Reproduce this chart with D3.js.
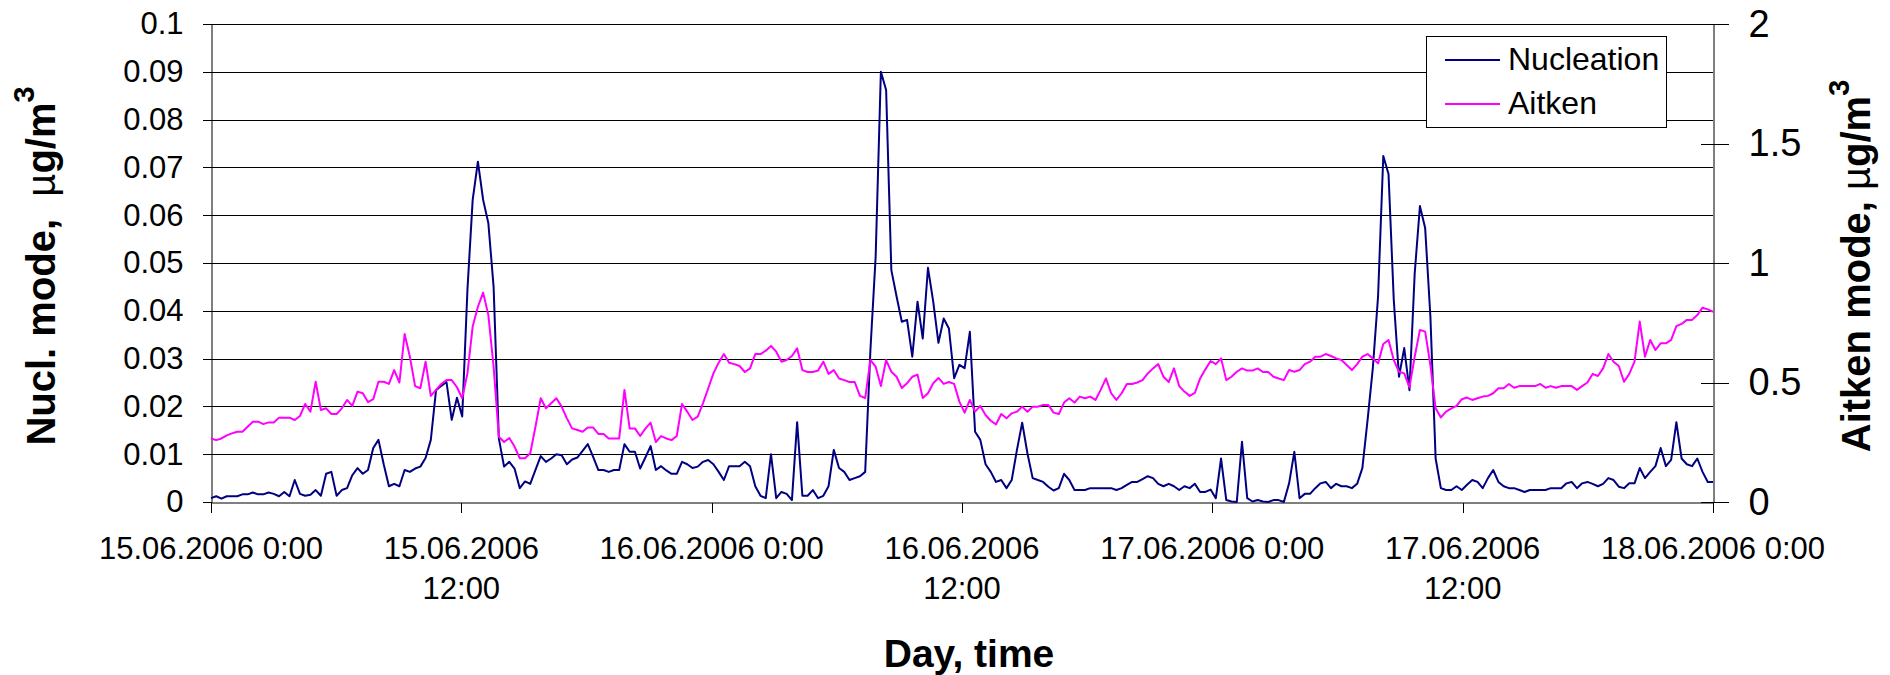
<!DOCTYPE html>
<html><head><meta charset="utf-8">
<script src="https://cdn.jsdelivr.net/npm/d3@7"></script>
<style>
html,body{margin:0;padding:0;background:#fff;}
svg{display:block;font-family:"Liberation Sans",Arial,Helvetica,sans-serif;}
</style></head><body>
<svg id="chart" width="1890" height="675"></svg>
<script>
// ---------- DATA (15-min resolution, 15.06.2006 0:00 – 18.06.2006 0:00) ----------
const nucleation = [
 .0008,.0012,.0007,.0012,.0012,.0012,.0016,.0016,.0020,.0016,
 .0016,.0020,.0017,.0012,.0021,.0012,.0046,.0017,.0013,.0015,
 .0025,.0013,.0059,.0063,.0013,.0025,.0029,.0056,.0071,.0059,
 .0067,.0113,.0130,.0079,.0033,.0038,.0033,.0067,.0063,.0070,
 .0074,.0092,.0130,.0234,.0243,.0251,.0172,.0218,
 .0179,.0444,.0632,.0712,.0632,.0583,.0450,.0133,.0074,.0084,
 .0070,.0029,.0043,.0038,.0067,.0096,.0084,.0091,.0100,.0098,
 .0079,.0089,.0093,.0107,.0121,.0095,.0067,.0067,.0063,.0067,
 .0067,.0121,.0105,.0105,.0070,.0093,.0117,.0067,.0075,.0066,
 .0059,.0059,.0084,.0079,.0071,.0074,.0084,.0088,
 .0079,.0063,.0046,.0075,.0075,.0075,.0084,.0075,.0033,.0013,
 .0008,.0100,.0008,.0021,.0017,.0004,.0167,.0013,.0013,.0025,
 .0008,.0013,.0033,.0109,.0071,.0063,.0046,.0050,.0054,.0063,
 .0318,.0513,.0900,.0862,.0485,.0430,.0377,.0381,.0304,.0419,
 .0342,.0490,.0419,.0333,.0384,.0363,.0259,.0287,
 .0280,.0356,.0147,.0130,.0079,.0063,.0042,.0046,.0029,.0046,
 .0109,.0166,.0102,.0050,.0046,.0042,.0032,.0024,.0029,.0059,
 .0046,.0025,.0025,.0025,.0029,.0029,.0029,.0029,.0029,.0025,
 .0029,.0036,.0042,.0042,.0048,.0054,.0050,.0038,.0033,.0038,
 .0033,.0025,.0033,.0029,.0038,.0021,.0021,.0026,
 .0008,.0091,.0004,.0001,.0000,.0126,.0008,.0001,.0004,.0001,
 .0000,.0004,.0004,.0000,.0039,.0105,.0008,.0017,.0017,.0029,
 .0039,.0042,.0029,.0038,.0033,.0033,.0029,.0038,.0071,.0172,
 .0280,.0430,.0724,.0686,.0423,.0262,.0322,.0234,.0478,.0619,
 .0573,.0388,.0091,.0029,.0025,.0025,.0033,
 .0025,.0036,.0046,.0042,.0029,.0050,.0067,.0042,.0033,.0029,
 .0029,.0025,.0021,.0025,.0025,.0025,.0025,.0029,.0029,.0029,
 .0039,.0042,.0029,.0039,.0042,.0038,.0033,.0038,.0050,.0046,
 .0032,.0029,.0039,.0039,.0071,.0050,.0063,.0075,.0113,.0075,
 .0088,.0167,.0091,.0079,.0075,.0091,.0063,.0042,.0042
];
const aitken = [
 0.266,0.259,0.266,0.279,0.287,0.294,0.294,0.315,0.336,0.336,
 0.326,0.333,0.333,0.353,0.353,0.353,0.343,0.360,0.410,0.378,
 0.503,0.385,0.392,0.368,0.368,0.392,0.427,0.402,0.462,0.455,
 0.418,0.430,0.503,0.503,0.494,0.552,0.500,0.703,0.608,0.485,
 0.476,0.587,0.444,0.469,0.494,0.510,0.510,0.480,
 0.434,0.538,0.734,0.817,0.876,0.782,0.566,0.273,0.251,0.268,
 0.232,0.183,0.183,0.204,0.315,0.434,0.392,0.413,0.434,0.399,
 0.350,0.308,0.301,0.294,0.312,0.312,0.285,0.285,0.266,0.266,
 0.266,0.469,0.308,0.308,0.276,0.307,0.332,0.251,0.276,0.266,
 0.259,0.276,0.410,0.378,0.343,0.357,0.413,0.475,
 0.538,0.583,0.619,0.583,0.577,0.569,0.544,0.559,0.619,0.619,
 0.633,0.653,0.629,0.587,0.594,0.611,0.643,0.552,0.544,0.544,
 0.550,0.587,0.536,0.552,0.517,0.510,0.502,0.502,0.444,0.435,
 0.594,0.566,0.485,0.594,0.545,0.524,0.477,0.497,0.524,0.533,
 0.435,0.455,0.497,0.519,0.494,0.502,0.494,0.420,
 0.374,0.427,0.378,0.402,0.364,0.340,0.325,0.368,0.350,0.371,
 0.378,0.399,0.378,0.399,0.399,0.406,0.406,0.374,0.368,0.416,
 0.434,0.416,0.441,0.434,0.441,0.427,0.469,0.517,0.455,0.427,
 0.455,0.494,0.494,0.500,0.510,0.538,0.559,0.577,0.524,0.502,
 0.559,0.485,0.462,0.444,0.457,0.517,0.555,0.590,
 0.577,0.601,0.510,0.524,0.545,0.559,0.550,0.550,0.559,0.544,
 0.544,0.524,0.517,0.510,0.552,0.545,0.552,0.577,0.587,0.608,
 0.608,0.619,0.611,0.601,0.594,0.573,0.552,0.577,0.608,0.619,
 0.601,0.580,0.661,0.678,0.594,0.545,0.538,0.480,0.608,0.720,
 0.713,0.573,0.392,0.354,0.378,0.392,0.402,
 0.430,0.437,0.427,0.434,0.441,0.444,0.455,0.476,0.476,0.494,
 0.478,0.485,0.485,0.485,0.485,0.494,0.478,0.485,0.478,0.485,
 0.485,0.485,0.469,0.485,0.500,0.536,0.527,0.559,0.619,0.587,
 0.569,0.503,0.536,0.587,0.755,0.608,0.678,0.636,0.664,0.664,
 0.678,0.736,0.745,0.762,0.762,0.782,0.813,0.806,0.796
];
const seriesNames = ["Nucleation", "Aitken"];
const startTime = Date.UTC(2006, 5, 15, 0, 0);
const endTime = Date.UTC(2006, 5, 18, 0, 0);
const xTickTimes = [
  Date.UTC(2006,5,15,0), Date.UTC(2006,5,15,12), Date.UTC(2006,5,16,0),
  Date.UTC(2006,5,16,12), Date.UTC(2006,5,17,0), Date.UTC(2006,5,17,12),
  Date.UTC(2006,5,18,0)
];
const xTickLabels = [
  ["15.06.2006 0:00"], ["15.06.2006", "12:00"], ["16.06.2006 0:00"],
  ["16.06.2006", "12:00"], ["17.06.2006 0:00"], ["17.06.2006", "12:00"],
  ["18.06.2006 0:00"]
];
const leftTicks = [0, 0.01, 0.02, 0.03, 0.04, 0.05, 0.06, 0.07, 0.08, 0.09, 0.1];
const leftTickLabels = ["0","0.01","0.02","0.03","0.04","0.05","0.06","0.07","0.08","0.09","0.1"];
const rightTicks = [0, 0.5, 1, 1.5, 2];
const rightTickLabels = ["0","0.5","1","1.5","2"];

// ---------- LAYOUT ----------
const L = 211, R = 1713, T = 24, B = 502;
const colNuc = "#000080", colAit = "#FF00FF";

const svg = d3.select("#chart");
const N = nucleation.length;
const times = nucleation.map((_, i) => new Date(startTime + i * (endTime - startTime) / (N - 1)));

const x = d3.scaleUtc().domain([new Date(startTime), new Date(endTime)]).range([L, R]);
const yL = d3.scaleLinear().domain([0, 0.1]).range([B, T]);
const yR = d3.scaleLinear().domain([0, 2]).range([B, T]);

// gridlines
svg.append("g").selectAll("line").data(leftTicks.filter(d => d > 0)).join("line")
  .attr("x1", L).attr("x2", R)
  .attr("y1", d => Math.round(yL(d)) + 0.5).attr("y2", d => Math.round(yL(d)) + 0.5)
  .attr("stroke", "#000").attr("stroke-width", 1);

// left axis
const gL = svg.append("g").attr("transform", `translate(${L + 0.5},0)`)
  .call(d3.axisLeft(yL).tickValues(leftTicks).tickSize(9).tickSizeOuter(0).tickPadding(19)
    .tickFormat((d, i) => leftTickLabels[i]));
// right axis
const gR = svg.append("g").attr("transform", `translate(${R + 0.5},0)`)
  .call(d3.axisRight(yR).tickValues(rightTicks).tickSize(15).tickSizeOuter(0).tickPadding(20)
    .tickFormat((d, i) => rightTickLabels[i]));
svg.append("g").attr("transform", `translate(${R + 0.5},0)`)
  .call(d3.axisRight(yR).tickValues(rightTicks).tickSize(-13).tickSizeOuter(0).tickFormat(""))
  .select(".domain").remove();
// bottom axis
const gB = svg.append("g").attr("transform", `translate(0,${B + 0.5})`)
  .call(d3.axisBottom(x).tickValues(xTickTimes.map(t => new Date(t))).tickSize(10).tickSizeOuter(0).tickFormat(""));

[gL, gR, gB].forEach(g => {
  g.selectAll("path.domain").attr("stroke", "#000").attr("stroke-width", 1);
  g.selectAll(".tick line").attr("stroke", "#000");
});
gL.selectAll(".tick text").attr("font-size", 31).attr("fill", "#000").attr("font-family", "Liberation Sans, Arial, sans-serif");
gR.selectAll(".tick text").attr("font-size", 38).attr("fill", "#000").attr("font-family", "Liberation Sans, Arial, sans-serif");
svg.selectAll(".tick line").attr("shape-rendering", "crispEdges");

// x tick labels (multi-line)
const xl = svg.append("g").attr("font-size", 31).attr("text-anchor", "middle").attr("fill", "#000");
xTickTimes.forEach((t, i) => {
  const txt = xl.append("text").attr("x", x(new Date(t))).attr("y", 559);
  xTickLabels[i].forEach((s, j) => {
    txt.append("tspan").attr("x", x(new Date(t))).attr("dy", j === 0 ? 0 : 40).text(s);
  });
});

// series lines
const lineN = d3.line().x((d, i) => x(times[i])).y(d => yL(d));
const lineA = d3.line().x((d, i) => x(times[i])).y(d => yR(d));
svg.append("path").datum(nucleation).attr("d", lineN)
  .attr("fill", "none").attr("stroke", colNuc).attr("stroke-width", 2).attr("stroke-linejoin", "round");
svg.append("path").datum(aitken).attr("d", lineA)
  .attr("fill", "none").attr("stroke", colAit).attr("stroke-width", 2).attr("stroke-linejoin", "round");

// axis titles
const lt = svg.append("text").attr("transform", "translate(55,266) rotate(-90)")
  .attr("text-anchor", "middle").attr("font-weight", "bold").attr("font-size", 40)
  .style("white-space", "pre");
lt.append("tspan").text("Nucl. mode,  ");
lt.append("tspan").attr("font-weight", "normal").text("\u00b5");
lt.append("tspan").text("g/m");
lt.append("tspan").attr("dy", "-0.72em").attr("font-size", "0.72em").text("3");

const rt = svg.append("text").attr("transform", "translate(1870,266) rotate(-90)")
  .attr("text-anchor", "middle").attr("font-weight", "bold").attr("font-size", 40)
  .style("white-space", "pre");
rt.append("tspan").text("Aitken mode, ");
rt.append("tspan").attr("font-weight", "normal").text("\u00b5");
rt.append("tspan").text("g/m");
rt.append("tspan").attr("dy", "-0.72em").attr("font-size", "0.72em").text("3");

svg.append("text").attr("x", 969).attr("y", 667).attr("text-anchor", "middle")
  .attr("font-weight", "bold").attr("font-size", 39).text("Day, time");

// legend
const lg = svg.append("g");
lg.append("rect").attr("x", 1426.5).attr("y", 36.5).attr("width", 240).attr("height", 91)
  .attr("fill", "#fff").attr("stroke", "#000").attr("stroke-width", 1);
[colNuc, colAit].forEach((c, i) => {
  const yy = 60 + i * 44;
  lg.append("line").attr("x1", 1445).attr("x2", 1500).attr("y1", yy).attr("y2", yy)
    .attr("stroke", c).attr("stroke-width", 2);
  lg.append("text").attr("x", 1508).attr("y", yy + 9.5).attr("font-size", 32).text(seriesNames[i]);
});
</script>
</body></html>
